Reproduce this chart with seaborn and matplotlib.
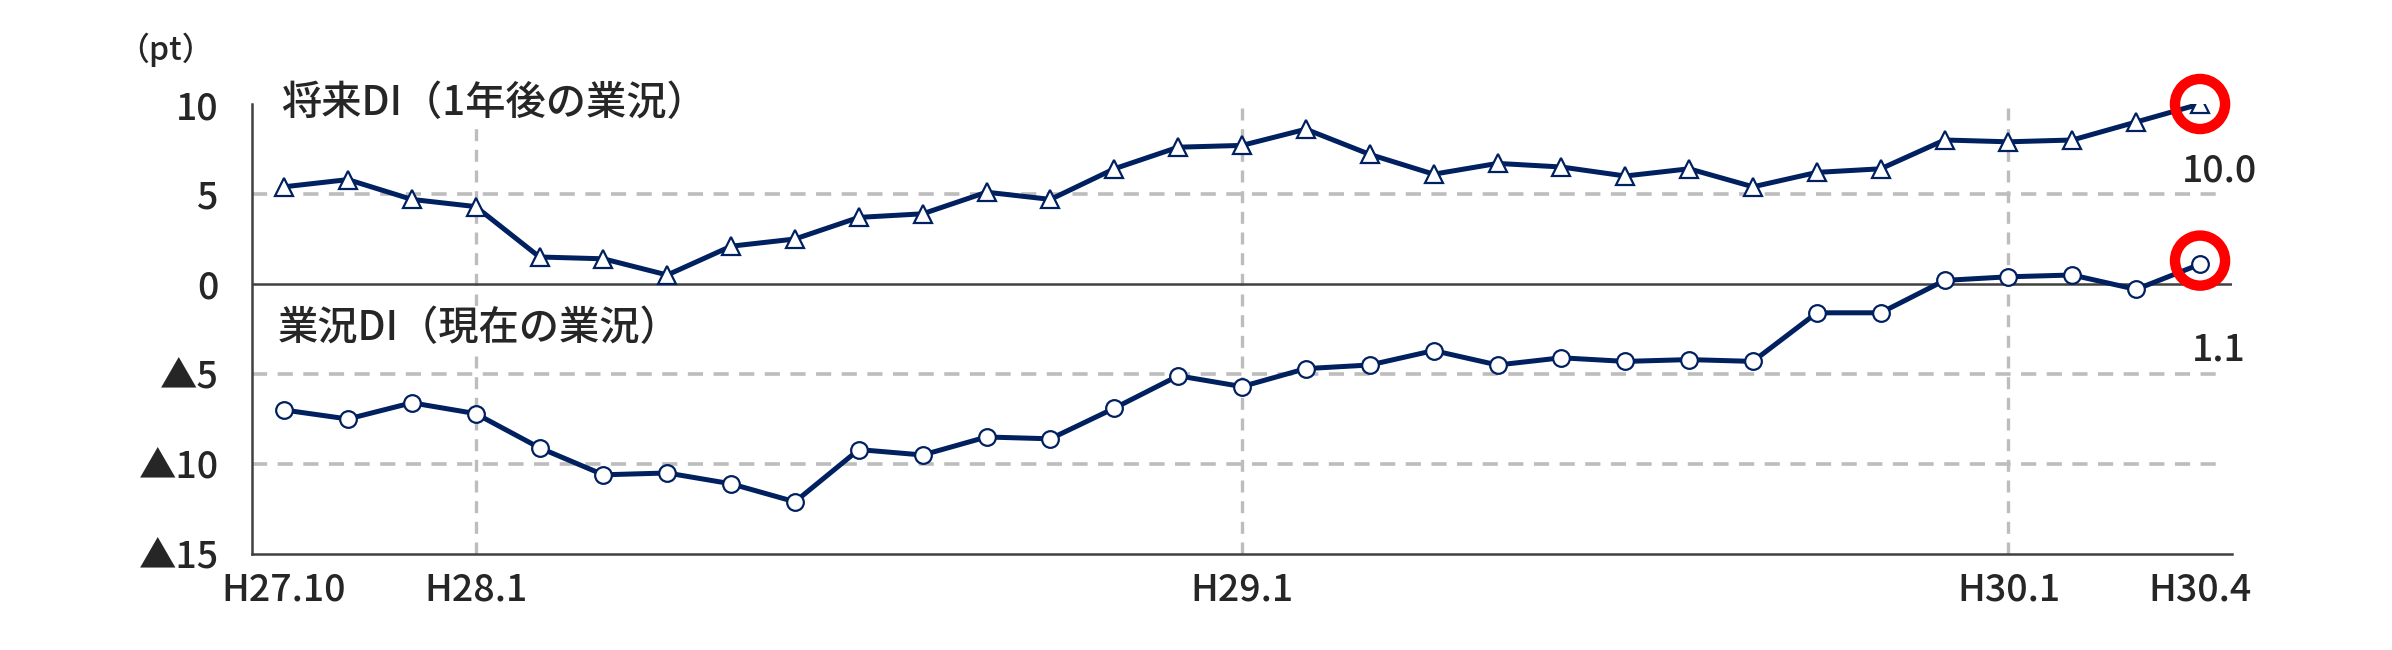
import matplotlib
matplotlib.use("Agg")
import matplotlib.pyplot as plt
import seaborn as sns
import pandas as pd

months = ["H27.10", "H27.11", "H27.12", "H28.1", "H28.2", "H28.3", "H28.4", "H28.5",
          "H28.6", "H28.7", "H28.8", "H28.9", "H28.10", "H28.11", "H28.12", "H29.1",
          "H29.2", "H29.3", "H29.4", "H29.5", "H29.6", "H29.7", "H29.8", "H29.9",
          "H29.10", "H29.11", "H29.12", "H30.1", "H30.2", "H30.3", "H30.4"]

# 将来DI (1年後の業況)
future_di = [5.4, 5.8, 4.7, 4.3, 1.5, 1.4, 0.5, 2.1, 2.5, 3.7, 3.9, 5.1, 4.7, 6.4, 7.6, 7.7,
             8.6, 7.2, 6.1, 6.7, 6.5, 6.0, 6.4, 5.4, 6.2, 6.4, 8.0, 7.9, 8.0, 9.0, 10.0]
# 業況DI (現在の業況)
current_di = [-7.0, -7.5, -6.6, -7.2, -9.1, -10.6, -10.5, -11.1, -12.1, -9.2, -9.5, -8.5,
              -8.6, -6.9, -5.1, -5.7, -4.7, -4.5, -3.7, -4.5, -4.1, -4.3, -4.2, -4.3,
              -1.6, -1.6, 0.2, 0.4, 0.5, -0.3, 1.1]

xtick_months = ["H27.10", "H28.1", "H29.1", "H30.1", "H30.4"]
vline_months = ["H28.1", "H29.1", "H30.1"]
yticks = [10, 5, 0, -5, -10, -15]
ytick_labels = ["10", "5", "0", "▲5", "▲10", "▲15"]

df = pd.DataFrame({"month": months, "future": future_di, "current": current_di})
df["pos"] = range(len(df))

sns.set_style("white")
plt.rcParams["font.family"] = ["Noto Sans CJK JP", "DejaVu Sans"]
plt.rcParams["font.weight"] = "medium"

navy = "#002060"
grid_c = "#bdbdbd"

fig = plt.figure(figsize=(23.92, 6.5), dpi=100)
ax = fig.add_axes([0.1054, 0.1477, 0.8277, 0.6923])

# grid
for v in [5, -5, -10]:
    ax.hlines(v, -0.5, 30.3, colors=grid_c, linewidth=2.6, linestyle=(0, (4.2, 2.9)), zorder=1)
for m in vline_months:
    ax.axvline(months.index(m), color=grid_c, linewidth=2.4, linestyle=(0, (3.6, 2.6)), zorder=1)
ax.axhline(0, color="#404040", linewidth=1.8, zorder=2)

sns.lineplot(data=df, x="pos", y="future", ax=ax, color=navy, linewidth=3.6,
             marker="^", markersize=13, markerfacecolor="white",
             markeredgecolor=navy, markeredgewidth=1.6, zorder=4)
sns.lineplot(data=df, x="pos", y="current", ax=ax, color=navy, linewidth=3.6,
             marker="o", markersize=12, markerfacecolor="white",
             markeredgecolor=navy, markeredgewidth=1.6, zorder=4)

# highlight latest values
last = len(df) - 1
ax.scatter([last, last], [future_di[-1], current_di[-1] + 0.2], s=1300, facecolors="none",
           edgecolors="#ff0000", linewidths=7.5, zorder=5, clip_on=False)
ax.text(30.3, 6.3, f"{future_di[-1]:.1f}", fontsize=27, ha="center", va="center")
ax.text(30.3, -3.65, f"{current_di[-1]:.1f}", fontsize=27, ha="center", va="center")

bb = dict(facecolor="white", edgecolor="none", pad=1)
ax.text(-0.05, 10.05, "将来DI（1年後の業況）", fontsize=29, ha="left", va="center", bbox=bb, zorder=3)
ax.text(-0.1, -2.45, "業況DI（現在の業況）", fontsize=29, ha="left", va="center", bbox=bb, zorder=3)
ax.text(-0.068, 1.12, "（pt）", transform=ax.transAxes, fontsize=23, ha="left", va="center")

ax.set_xlim(-0.5, 30.5)
ax.set_ylim(-15, 10)
ax.set_yticks(yticks)
ax.set_yticklabels(ytick_labels)
ax.set_xticks([months.index(m) for m in xtick_months])
ax.set_xticklabels(xtick_months)
ax.tick_params(axis="y", direction="in", length=7, width=1.5, color="#404040",
               labelsize=27, pad=24)
ax.tick_params(axis="x", length=0, labelsize=27, pad=12)
ax.set_xlabel("")
ax.set_ylabel("")

sns.despine(ax=ax)
for s in ["left", "bottom"]:
    ax.spines[s].set_color("#404040")
    ax.spines[s].set_linewidth(1.8)

fig.savefig("out.png", dpi=100)
